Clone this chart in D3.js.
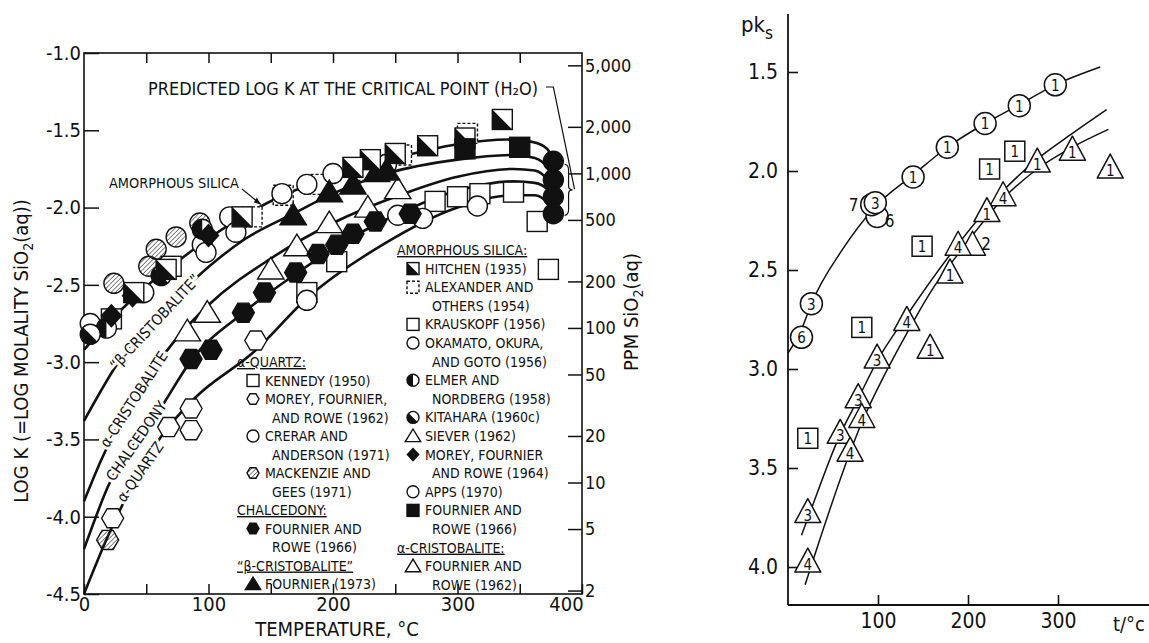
<!DOCTYPE html>
<html>
<head>
<meta charset="utf-8">
<script src="https://cdn.jsdelivr.net/npm/d3@7"></script>
<style>
  body { margin: 0; background: #fff; }
  svg text { font-family: "Liberation Sans Narrow", "DejaVu Sans Condensed", "Liberation Sans", Arial, sans-serif; fill: #111; }
</style>
</head>
<body>
<svg id="chart" width="1149" height="643"></svg>
<script>
/* ---------- DATA : left panel (log K vs temperature) ---------- */
const tempTicks = [0, 50, 100, 150, 200, 250, 300, 350, 400];
const logKTicks = [-1.0, -1.5, -2.0, -2.5, -3.0, -3.5, -4.0, -4.5];
const ppmTicks = [5000, 2000, 1000, 500, 200, 100, 50, 20, 10, 5, 2];
const ppmLabels = ["5,000", "2,000", "1,000", "500", "200", "100", "50", "20", "10", "5", "2"];

// solubility curves [t, logK]
const amorphousCurve = [[0,-2.92],[25,-2.70],[50,-2.51],[75,-2.35],[100,-2.20],[127,-2.06],[160,-1.92],[200,-1.80],[250,-1.68],[300,-1.59],[340,-1.56],[360,-1.575],[372,-1.62],[377,-1.70]];
const betaCristCurve = [[0,-3.38],[26,-3.02],[88,-2.47],[130,-2.20],[168,-2.04],[200,-1.91],[243,-1.78],[300,-1.69],[345,-1.66],[362,-1.68],[372,-1.74],[377,-1.82]];
const alphaCristCurve = [[0,-3.90],[14,-3.63],[71,-2.88],[100,-2.63],[150,-2.33],[200,-2.10],[250,-1.93],[300,-1.80],[345,-1.75],[362,-1.76],[372,-1.82],[377,-1.93]];
const chalcedonyCurve = [[0,-4.21],[19,-3.81],[63,-3.28],[86,-2.99],[128,-2.68],[170,-2.43],[216,-2.19],[250,-2.05],[300,-1.89],[345,-1.83],[362,-1.84],[372,-1.88],[377,-1.93]];
const quartzCurve = [[0,-4.50],[19,-4.13],[63,-3.47],[88,-3.24],[137,-2.93],[180,-2.58],[240,-2.24],[300,-2.00],[345,-1.92],[362,-1.92],[372,-1.97],[377,-2.04]];

// measured points [t, logK]
const hitchenPts = [[336,-1.43],[306,-1.55],[276,-1.60],[250,-1.65],[230,-1.69],[216,-1.74],[127,-2.06],[66,-2.40],[40,-2.55]];
const alexanderPts = [[135,-2.06],[160,-1.92],[190,-1.85],[222,-1.76],[255,-1.66],[308,-1.52]];
const krauskopfPts = [[22,-2.72],[70,-2.38]];
const kennedyPts = [[179,-2.55],[203,-2.35],[282,-1.96],[300,-1.93],[318,-1.91],[345,-1.90],[364,-2.09],[373,-2.40]];
const morey62Pts = [[23,-4.01],[68,-3.42],[86,-3.30],[86,-3.44],[138,-2.86]];
const crerarPts = [[179,-2.60],[252,-2.05],[272,-2.07],[316,-1.99]];
const mackenzieCircPts = [[24,-2.49],[52,-2.38],[58,-2.27],[74,-2.19],[93,-2.10]];
const mackenzieHexPts = [[19,-4.15]];
const chalcedonyPts = [[86,-2.98],[102,-2.92],[128,-2.68],[145,-2.55],[170,-2.42],[188,-2.30],[203,-2.24],[216,-2.17],[234,-2.09],[262,-2.04]];
const fournier73Pts = [[168,-2.05],[197,-1.90],[216,-1.85],[235,-1.77],[243,-1.76]];
const okamotoPts = [[5,-2.75],[95,-2.24],[98,-2.29],[117,-2.06],[122,-2.16],[159,-1.91],[179,-1.85],[200,-1.78],[243,-1.72]];
const elmerPts = [[18,-2.78],[48,-2.55],[95,-2.14]];
const kitaharaPts = [[5,-2.82],[62,-2.44]];
const sieverPts = [[150,-2.40],[171,-2.25],[252,-1.88]];
const alphaCristPts = [[83,-2.80],[99,-2.68],[197,-2.10],[228,-2.00]];
const morey64Pts = [[22,-2.70],[39,-2.57],[100,-2.18]];
const fournier66Pts = [[306,-1.62],[350,-1.61]];
const criticalPts = [[377,-1.70],[377,-1.82],[377,-1.93],[377,-2.04]];

/* ---------- DATA : right panel (pk_s vs t) ---------- */
const tTicksR = [100, 200, 300];
const pkTicks = [1.5, 2.0, 2.5, 3.0, 3.5, 4.0];
const circleCurveR = [[0,2.92],[15,2.80],[26,2.67],[60,2.40],[97,2.18],[139,2.02],[177,1.88],[219,1.76],[257,1.665],[297,1.565],[347,1.475]];
const triUpperR = [[15,3.84],[24,3.73],[58,3.33],[78,3.15],[99,2.96],[132,2.73],[189,2.37],[239,2.10],[277,1.94],[316,1.81],[354,1.69]];
const triLowerR = [[19,4.09],[69,3.42],[82,3.27],[105,3.05],[132,2.82],[160,2.60],[189,2.42],[239,2.14],[277,1.99],[316,1.88],[356,1.79]];
const circlePtsR = [[15,2.84,"6"],[26,2.67,"3"],[99,2.23,""],[93,2.17,""],[97,2.16,"3"],[139,2.03,"1"],[177,1.88,"1"],[219,1.76,"1"],[257,1.67,"1"],[297,1.565,"1"]];
const trianglePtsR = [[22,3.73,"3"],[58,3.33,"3"],[78,3.15,"3"],[99,2.95,"3"],[22,3.98,"4"],[69,3.42,"4"],[82,3.25,"4"],[132,2.76,"4"],[205,2.38,""],[189,2.38,"4"],[239,2.13,"4"],[221,2.21,"1"],[180,2.52,"1"],[277,1.96,"1"],[316,1.90,"1"],[358,1.99,"1"],[158,2.90,"1"]];
const squarePtsR = [[22,3.35,"1"],[82,2.79,"1"],[149,2.38,"1"],[224,1.99,"1"],[252,1.90,"1"]];
const looseLabelsR = [[73,2.17,"7"],[113,2.25,"6"],[220,2.37,"2"]];

/* ---------- SETUP ---------- */
const svg = d3.select("#chart");
const ink = "#111";

const defs = svg.append("defs");
defs.append("pattern")
  .attr("id", "hatch")
  .attr("patternUnits", "userSpaceOnUse")
  .attr("width", 3.2).attr("height", 3.2)
  .attr("patternTransform", "rotate(45)")
  .append("line")
  .attr("x1", 0).attr("y1", 0).attr("x2", 0).attr("y2", 3.2)
  .attr("stroke", "#333").attr("stroke-width", 1.2);

// symbol painter, s = half size
function drawSym(g, type, x, y, s) {
  const sw = 1.4;
  const hex = d3.range(6).map(i => [x + s * Math.cos(i * Math.PI / 3), y + s * Math.sin(i * Math.PI / 3)]);
  const hexPath = "M" + hex.join("L") + "Z";
  const triPath = `M${x},${y - s}L${x + s * 1.1},${y + s * 0.8}L${x - s * 1.1},${y + s * 0.8}Z`;
  if (type.startsWith("sq")) {
    g.append("rect").attr("x", x - s).attr("y", y - s).attr("width", 2 * s).attr("height", 2 * s)
      .attr("fill", type === "sqFill" ? ink : "#fff").attr("stroke", ink).attr("stroke-width", sw)
      .attr("stroke-dasharray", type === "sqDash" ? "3,2" : null);
    if (type === "sqHalf")
      g.append("path").attr("d", `M${x - s},${y - s}L${x - s},${y + s}L${x + s},${y + s}Z`).attr("fill", ink);
  } else if (type.startsWith("circ")) {
    const fill = type === "circFill" ? ink : type === "circHatch" ? "url(#hatch)" : "#fff";
    g.append("circle").attr("cx", x).attr("cy", y).attr("r", s).attr("fill", fill).attr("stroke", ink).attr("stroke-width", sw);
    if (type === "circHalf")
      g.append("path").attr("d", `M${x},${y - s}A${s},${s} 0 0 0 ${x},${y + s}Z`).attr("fill", ink);
    if (type === "circQuarter") {
      const c = s * Math.SQRT1_2;
      g.append("path").attr("d", `M${x - c},${y - c}A${s},${s} 0 0 0 ${x + c},${y + c}Z`).attr("fill", ink);
    }
  } else if (type.startsWith("hex")) {
    const fill = type === "hexFill" ? ink : type === "hexHatch" ? "url(#hatch)" : "#fff";
    g.append("path").attr("d", hexPath).attr("fill", fill).attr("stroke", ink).attr("stroke-width", sw);
  } else if (type.startsWith("tri")) {
    g.append("path").attr("d", triPath).attr("fill", type === "triFill" ? ink : "#fff").attr("stroke", ink).attr("stroke-width", sw);
  } else if (type === "diam") {
    g.append("path").attr("d", `M${x},${y - s * 1.2}L${x + s * 1.1},${y}L${x},${y + s * 1.2}L${x - s * 1.1},${y}Z`).attr("fill", ink);
  }
}

/* ---------- LEFT PANEL ---------- */
const xL = d3.scaleLinear().domain([0, 400]).range([84, 582]);
const yL = d3.scaleLinear().domain([-1, -4.5]).range([53, 594]);
const ppmToLogK = p => Math.log10(p / 60084);

const left = svg.append("g");

left.append("rect")
  .attr("x", xL(0)).attr("y", yL(-1))
  .attr("width", xL(400) - xL(0)).attr("height", yL(-4.5) - yL(-1))
  .attr("fill", "none").attr("stroke", ink).attr("stroke-width", 1.6);

const axisStyle = size => g => {
  g.select(".domain").remove();
  g.selectAll(".tick line").attr("stroke", ink).attr("stroke-width", 1.5);
  g.selectAll(".tick text").attr("fill", ink).attr("font-size", size)
    .attr("font-family", "\"Liberation Sans Narrow\", \"DejaVu Sans Condensed\", \"Liberation Sans\", Arial, sans-serif");
};

left.append("g").attr("transform", `translate(0,${yL(-4.5)})`)
  .call(d3.axisBottom(xL).tickValues(tempTicks).tickSize(-10).tickPadding(3)
    .tickFormat(d => d % 100 === 0 ? d : ""))
  .call(axisStyle(20))
  .call(g => g.selectAll(".tick text").filter(d => d === 400).attr("dx", -16));

left.append("g").attr("transform", `translate(0,${yL(-1)})`)
  .call(d3.axisTop(xL).tickValues(tempTicks.slice(1, -1)).tickSize(-10).tickFormat(""))
  .call(axisStyle(20));

left.append("g").attr("transform", `translate(${xL(0)},0)`)
  .call(d3.axisLeft(yL).tickValues(logKTicks).tickSize(-15).tickPadding(3).tickFormat(d => d.toFixed(1)))
  .call(axisStyle(20));

left.append("g").attr("transform", `translate(${xL(400)},0)`)
  .call(d3.axisRight(yL).tickValues(ppmTicks.map(ppmToLogK)).tickSize(-14).tickPadding(3)
    .tickFormat((d, i) => ppmLabels[i]))
  .call(axisStyle(18));

// axis titles
left.append("text")
  .attr("x", 337).attr("y", 636).attr("text-anchor", "middle").attr("font-size", 20)
  .text("TEMPERATURE, °C");

const yTitle = left.append("text")
  .attr("transform", "translate(28,351) rotate(-90)")
  .attr("text-anchor", "middle").attr("font-size", 20);
yTitle.append("tspan").text("LOG K (=LOG MOLALITY SiO");
yTitle.append("tspan").attr("font-size", 14).attr("dy", 5).text("2");
yTitle.append("tspan").attr("dy", -5).text("(aq))");

const ppmTitle = left.append("text")
  .attr("transform", "translate(638,312) rotate(-90)")
  .attr("text-anchor", "middle").attr("font-size", 20);
ppmTitle.append("tspan").text("PPM SiO");
ppmTitle.append("tspan").attr("font-size", 14).attr("dy", 5).text("2");
ppmTitle.append("tspan").attr("dy", -5).text("(aq)");

// curves
const lineL = d3.line().x(d => xL(d[0])).y(d => yL(d[1])).curve(d3.curveMonotoneX);
[amorphousCurve, betaCristCurve, alphaCristCurve, chalcedonyCurve, quartzCurve].forEach(c => {
  left.append("path").attr("d", lineL(c)).attr("fill", "none").attr("stroke", ink).attr("stroke-width", 2.6);
});

// rotated curve labels, sitting in gaps of the curves
const curveLabels = [
  {t: 57, k: -2.74, a: -47, txt: "“β-CRISTOBALITE”"},
  {t: 40, k: -3.24, a: -57, txt: "α-CRISTOBALITE"},
  {t: 42, k: -3.51, a: -55, txt: "CHALCEDONY"},
  {t: 45, k: -3.71, a: -55, txt: "α-QUARTZ"}
];
curveLabels.forEach(l => {
  left.append("text")
    .attr("transform", `translate(${xL(l.t)},${yL(l.k)}) rotate(${l.a})`)
    .attr("text-anchor", "middle").attr("dy", "0.35em").attr("font-size", 15)
    .attr("stroke", "#fff").attr("stroke-width", 6).attr("paint-order", "stroke")
    .text(l.txt);
});

// points
const pointSets = [
  {pts: kennedyPts, type: "sq"},
  {pts: krauskopfPts, type: "sq"},
  {pts: alexanderPts, type: "sqDash"},
  {pts: crerarPts, type: "circ"},
  {pts: okamotoPts, type: "circ"},
  {pts: morey62Pts, type: "hex"},
  {pts: mackenzieHexPts, type: "hexHatch"},
  {pts: mackenzieCircPts, type: "circHatch"},
  {pts: alphaCristPts, type: "tri"},
  {pts: sieverPts, type: "tri"},
  {pts: chalcedonyPts, type: "hexFill"},
  {pts: fournier73Pts, type: "triFill"},
  {pts: elmerPts, type: "circHalf"},
  {pts: kitaharaPts, type: "circQuarter"},
  {pts: morey64Pts, type: "diam"},
  {pts: hitchenPts, type: "sqHalf"},
  {pts: fournier66Pts, type: "sqFill"},
  {pts: criticalPts, type: "circFill"}
];
const ptsG = left.append("g");
pointSets.forEach(set => {
  const size = set.type.startsWith("hex") ? 11 : set.type.startsWith("tri") ? 12 : 10;
  set.pts.forEach(p => drawSym(ptsG, set.type, xL(p[0]), yL(p[1]), size));
});

// annotations
left.append("text").attr("x", 148).attr("y", 95).attr("font-size", 17)
  .attr("textLength", 390).attr("lengthAdjust", "spacingAndGlyphs")
  .text("PREDICTED LOG K AT THE CRITICAL POINT (H₂O)");
left.append("path")
  .attr("d", `M${xL(371)},${yL(-1.22)}L${xL(377)},${yL(-1.22)}L${xL(394)},${yL(-1.88)}`)
  .attr("fill", "none").attr("stroke", ink).attr("stroke-width", 1.2);
// brace
const bx = xL(386), bt = yL(-1.72), bb = yL(-2.05), bm = (bt + bb) / 2;
left.append("path")
  .attr("d", `M${bx},${bt}Q${bx + 4},${bt} ${bx + 4},${bt + 6}L${bx + 4},${bm - 4}Q${bx + 4},${bm} ${bx + 8},${bm}Q${bx + 4},${bm} ${bx + 4},${bm + 4}L${bx + 4},${bb - 6}Q${bx + 4},${bb} ${bx},${bb}`)
  .attr("fill", "none").attr("stroke", ink).attr("stroke-width", 1.2);

left.append("text").attr("x", 109).attr("y", 188).attr("font-size", 14)
  .attr("textLength", 130).attr("lengthAdjust", "spacingAndGlyphs").text("AMORPHOUS SILICA");
left.append("line")
  .attr("x1", 242).attr("y1", 189).attr("x2", xL(142)).attr("y2", yL(-1.98))
  .attr("stroke", ink).attr("stroke-width", 1.2);
left.append("path")
  .attr("d", `M${xL(142)},${yL(-1.98)}l-7,-2l3,-5Z`).attr("fill", ink);

/* ---------- LEGEND ---------- */
const legendLeft = [
  {head: "α-QUARTZ:"},
  {sym: "sq", lines: ["KENNEDY (1950)"]},
  {sym: "hex", lines: ["MOREY, FOURNIER,", "AND ROWE (1962)"]},
  {sym: "circ", lines: ["CRERAR AND", "ANDERSON (1971)"]},
  {sym: "hexHatch", lines: ["MACKENZIE AND", "GEES (1971)"]},
  {head: "CHALCEDONY:"},
  {sym: "hexFill", lines: ["FOURNIER AND", "ROWE (1966)"]},
  {head: "“β-CRISTOBALITE”"},
  {sym: "triFill", lines: ["FOURNIER (1973)"]}
];
const legendRight = [
  {head: "AMORPHOUS SILICA:"},
  {sym: "sqHalf", lines: ["HITCHEN (1935)"]},
  {sym: "sqDash", lines: ["ALEXANDER AND", "OTHERS (1954)"]},
  {sym: "sq", lines: ["KRAUSKOPF (1956)"]},
  {sym: "circ", lines: ["OKAMATO, OKURA,", "AND GOTO (1956)"]},
  {sym: "circHalf", lines: ["ELMER AND", "NORDBERG (1958)"]},
  {sym: "circQuarter", lines: ["KITAHARA (1960c)"]},
  {sym: "tri", lines: ["SIEVER (1962)"]},
  {sym: "diam", lines: ["MOREY, FOURNIER", "AND ROWE (1964)"]},
  {sym: "circ", lines: ["APPS (1970)"]},
  {sym: "sqFill", lines: ["FOURNIER AND", "ROWE (1966)"]},
  {head: "α-CRISTOBALITE:"},
  {sym: "tri", lines: ["FOURNIER AND", "ROWE (1962)"]}
];

function drawLegend(items, x0, y0, step) {
  const g = left.append("g");
  let y = y0;
  items.forEach(it => {
    if (it.head) {
      g.append("text").attr("x", x0).attr("y", y + 5).attr("font-size", 14)
        .attr("text-decoration", "underline").text(it.head);
      y += step;
    } else {
      drawSym(g, it.sym, x0 + 16, y, it.sym.startsWith("tri") ? 7 : 6);
      it.lines.forEach((ln, i) => {
        g.append("text").attr("x", x0 + (i === 0 ? 28 : 35)).attr("y", y + 5).attr("font-size", 14).text(ln);
        y += step;
      });
    }
  });
}
drawLegend(legendLeft, 237, 362, 18.5);
drawLegend(legendRight, 397, 250, 18.6);

/* ---------- RIGHT PANEL ---------- */
const xR = d3.scaleLinear().domain([0, 400]).range([788, 1148]);
const yR = d3.scaleLinear().domain([1.5, 4.0]).range([72, 567]);
const right = svg.append("g");
const baseY = 605;

right.append("line").attr("x1", xR(0)).attr("x2", 1149).attr("y1", baseY).attr("y2", baseY)
  .attr("stroke", ink).attr("stroke-width", 1.8);
right.append("line").attr("x1", xR(0)).attr("x2", xR(0)).attr("y1", 14).attr("y2", baseY)
  .attr("stroke", ink).attr("stroke-width", 1.8);

const rAxisStyle = g => {
  g.select(".domain").remove();
  g.selectAll(".tick line").attr("stroke", ink).attr("stroke-width", 1.6);
  g.selectAll(".tick text").attr("fill", ink).attr("font-size", 21)
    .attr("font-family", "\"Liberation Sans\", Arial, sans-serif");
};
right.append("g").attr("transform", `translate(0,${baseY})`)
  .call(d3.axisBottom(xR).tickValues(tTicksR).tickSize(-10).tickPadding(8))
  .call(rAxisStyle);
right.append("g").attr("transform", `translate(${xR(0)},0)`)
  .call(d3.axisLeft(yR).tickValues(pkTicks).tickSize(-10).tickPadding(10).tickFormat(d3.format(".1f")))
  .call(rAxisStyle);

const pk = right.append("text").attr("x", 741).attr("y", 32).attr("font-size", 22)
  .attr("font-family", "\"Liberation Sans\", Arial, sans-serif");
pk.append("tspan").text("pk");
pk.append("tspan").attr("font-size", 17).attr("dy", 7).text("s");
right.append("text").attr("x", 1145).attr("y", 631).attr("font-size", 20).attr("text-anchor", "end")
  .attr("font-family", "\"Liberation Sans\", Arial, sans-serif").text("t/°c");

const lineR = d3.line().x(d => xR(d[0])).y(d => yR(d[1])).curve(d3.curveMonotoneX);
[circleCurveR, triUpperR, triLowerR].forEach(c => {
  right.append("path").attr("d", lineR(c)).attr("fill", "none").attr("stroke", ink).attr("stroke-width", 1.5);
});

const numText = (x, y, s) => right.append("text").attr("x", x).attr("y", y)
  .attr("text-anchor", "middle").attr("font-size", 15)
  .attr("font-family", "\"Liberation Sans\", Arial, sans-serif").text(s);

squarePtsR.forEach(p => {
  const x = xR(p[0]), y = yR(p[1]);
  right.append("rect").attr("x", x - 10).attr("y", y - 10).attr("width", 20).attr("height", 20)
    .attr("fill", "#fff").attr("stroke", ink).attr("stroke-width", 1.5);
  numText(x, y + 6, p[2]);
});
circlePtsR.forEach(p => {
  const x = xR(p[0]), y = yR(p[1]);
  right.append("circle").attr("cx", x).attr("cy", y).attr("r", 11)
    .attr("fill", "#fff").attr("stroke", ink).attr("stroke-width", 1.5);
  numText(x, y + 6, p[2]);
});
trianglePtsR.forEach(p => {
  const x = xR(p[0]), y = yR(p[1]);
  right.append("path").attr("d", `M${x},${y - 15}L${x + 13},${y + 9}L${x - 13},${y + 9}Z`)
    .attr("fill", "#fff").attr("stroke", ink).attr("stroke-width", 1.5).attr("stroke-linejoin", "round");
  numText(x, y + 7, p[2]);
});
looseLabelsR.forEach(p => numText(xR(p[0]), yR(p[1]) + 6, p[2]).attr("font-size", 17));
</script>
</body>
</html>
